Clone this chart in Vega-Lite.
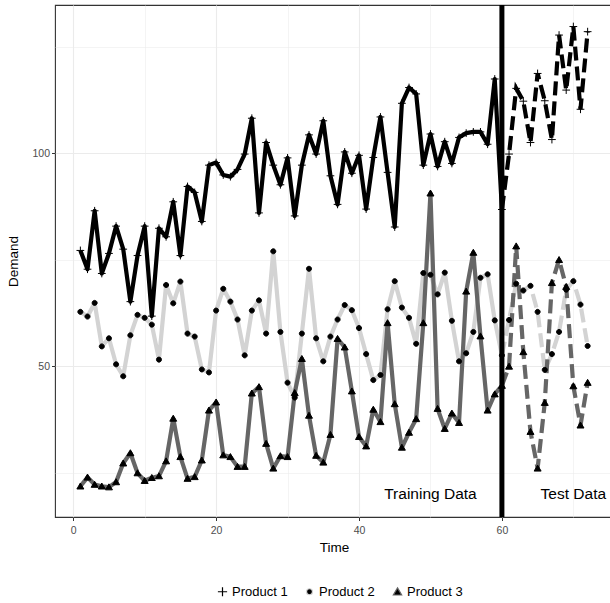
{
  "$schema": "https://vega.github.io/schema/vega-lite/v6.json",
  "autosize": "none",
  "width": 558,
  "height": 512,
  "padding": {"left": 55, "top": 5, "right": 0, "bottom": 86},
  "background": "white",
  "config": {
    "font": "Liberation Sans",
    "view": {"stroke": "#333333", "strokeWidth": 1.1},
    "legend": {"disable": false},
    "axis": {"domain": false, "tickColor": "#333333", "tickSize": 3.5, "labelColor": "#4d4d4d", "labelFontSize": 10.5, "titleFontSize": 13.5, "titleFontWeight": "normal", "titleColor": "black", "gridColor": "#ebebeb"}
  },
  "datasets": {
    "demand": [
      {"t":1,"Product 1":77.2,"Product 2":62.8,"Product 3":21.9},
      {"t":2,"Product 1":72.8,"Product 2":61.7,"Product 3":24.0},
      {"t":3,"Product 1":86.5,"Product 2":64.9,"Product 3":22.3},
      {"t":4,"Product 1":71.8,"Product 2":54.7,"Product 3":21.9},
      {"t":5,"Product 1":76.5,"Product 2":56.6,"Product 3":21.7},
      {"t":6,"Product 1":82.9,"Product 2":50.5,"Product 3":22.9},
      {"t":7,"Product 1":77.5,"Product 2":47.7,"Product 3":27.3},
      {"t":8,"Product 1":65.2,"Product 2":57.3,"Product 3":29.7},
      {"t":9,"Product 1":76.0,"Product 2":62.1,"Product 3":25.0},
      {"t":10,"Product 1":82.9,"Product 2":61.4,"Product 3":23.2},
      {"t":11,"Product 1":61.8,"Product 2":59.8,"Product 3":23.9},
      {"t":12,"Product 1":82.4,"Product 2":51.6,"Product 3":24.3},
      {"t":13,"Product 1":80.4,"Product 2":69.1,"Product 3":27.8},
      {"t":14,"Product 1":88.6,"Product 2":64.8,"Product 3":37.8},
      {"t":15,"Product 1":76.0,"Product 2":69.9,"Product 3":28.8},
      {"t":16,"Product 1":92.2,"Product 2":57.7,"Product 3":23.7},
      {"t":17,"Product 1":90.8,"Product 2":57.0,"Product 3":24.1},
      {"t":18,"Product 1":84.0,"Product 2":49.3,"Product 3":28.0},
      {"t":19,"Product 1":97.2,"Product 2":48.6,"Product 3":39.7},
      {"t":20,"Product 1":97.8,"Product 2":63.1,"Product 3":41.6},
      {"t":21,"Product 1":94.9,"Product 2":68.2,"Product 3":29.2},
      {"t":22,"Product 1":94.5,"Product 2":65.2,"Product 3":28.8},
      {"t":23,"Product 1":96.2,"Product 2":61.0,"Product 3":26.5},
      {"t":24,"Product 1":99.8,"Product 2":52.6,"Product 3":26.5},
      {"t":25,"Product 1":108.2,"Product 2":63.1,"Product 3":43.7},
      {"t":26,"Product 1":86.0,"Product 2":65.5,"Product 3":45.2},
      {"t":27,"Product 1":102.5,"Product 2":57.7,"Product 3":31.9},
      {"t":28,"Product 1":97.2,"Product 2":77.0,"Product 3":26.1},
      {"t":29,"Product 1":92.6,"Product 2":58.1,"Product 3":29.0},
      {"t":30,"Product 1":98.9,"Product 2":46.2,"Product 3":28.8},
      {"t":31,"Product 1":85.3,"Product 2":42.7,"Product 3":43.8},
      {"t":32,"Product 1":97.2,"Product 2":57.7,"Product 3":51.8},
      {"t":33,"Product 1":104.3,"Product 2":72.9,"Product 3":38.5},
      {"t":34,"Product 1":99.8,"Product 2":56.6,"Product 3":29.1},
      {"t":35,"Product 1":107.6,"Product 2":51.2,"Product 3":27.5},
      {"t":36,"Product 1":94.7,"Product 2":57.0,"Product 3":34.0},
      {"t":37,"Product 1":88.0,"Product 2":61.0,"Product 3":56.5},
      {"t":38,"Product 1":100.3,"Product 2":64.4,"Product 3":54.5},
      {"t":39,"Product 1":95.3,"Product 2":63.2,"Product 3":44.2},
      {"t":40,"Product 1":99.5,"Product 2":59.0,"Product 3":33.5},
      {"t":41,"Product 1":86.9,"Product 2":52.9,"Product 3":31.3},
      {"t":42,"Product 1":99.0,"Product 2":46.8,"Product 3":39.9},
      {"t":43,"Product 1":108.5,"Product 2":48.0,"Product 3":37.0},
      {"t":44,"Product 1":95.5,"Product 2":63.4,"Product 3":60.2},
      {"t":45,"Product 1":82.7,"Product 2":70.0,"Product 3":41.2},
      {"t":46,"Product 1":111.7,"Product 2":63.8,"Product 3":31.0},
      {"t":47,"Product 1":115.4,"Product 2":61.4,"Product 3":34.5},
      {"t":48,"Product 1":113.9,"Product 2":55.3,"Product 3":37.7},
      {"t":49,"Product 1":97.2,"Product 2":71.9,"Product 3":60.2},
      {"t":50,"Product 1":104.5,"Product 2":71.5,"Product 3":90.6},
      {"t":51,"Product 1":96.9,"Product 2":66.9,"Product 3":40.1},
      {"t":52,"Product 1":102.7,"Product 2":72.0,"Product 3":35.4},
      {"t":53,"Product 1":97.6,"Product 2":60.7,"Product 3":39.0},
      {"t":54,"Product 1":103.7,"Product 2":51.2,"Product 3":36.8},
      {"t":55,"Product 1":104.7,"Product 2":53.1,"Product 3":67.6},
      {"t":56,"Product 1":105.0,"Product 2":58.1,"Product 3":76.7},
      {"t":57,"Product 1":105.0,"Product 2":70.8,"Product 3":57.1},
      {"t":58,"Product 1":102.1,"Product 2":71.6,"Product 3":39.7},
      {"t":59,"Product 1":117.4,"Product 2":60.8,"Product 3":43.5},
      {"t":60,"Product 1":86.8,"Product 2":52.6,"Product 3":45.5},
      {"t":61,"Product 1":99.8,"Product 2":60.9,"Product 3":50.0},
      {"t":62,"Product 1":115.2,"Product 2":69.4,"Product 3":78.2},
      {"t":63,"Product 1":112.2,"Product 2":67.8,"Product 3":53.4},
      {"t":64,"Product 1":102.5,"Product 2":68.9,"Product 3":34.7},
      {"t":65,"Product 1":118.7,"Product 2":62.8,"Product 3":26.1},
      {"t":66,"Product 1":112.3,"Product 2":49.2,"Product 3":41.5},
      {"t":67,"Product 1":103.2,"Product 2":52.9,"Product 3":69.6},
      {"t":68,"Product 1":127.7,"Product 2":58.1,"Product 3":75.0},
      {"t":69,"Product 1":114.8,"Product 2":68.0,"Product 3":68.7},
      {"t":70,"Product 1":129.7,"Product 2":70.0,"Product 3":45.4},
      {"t":71,"Product 1":110.3,"Product 2":64.5,"Product 3":36.2},
      {"t":72,"Product 1":128.5,"Product 2":54.8,"Product 3":46.2}
    ],
    "notes": [
      {"t": 50, "demand": 20, "label": "Training Data"},
      {"t": 70, "demand": 20, "label": "Test Data"}
    ],
    "split": [{"t": 60}]
  },
  "layer": [
    {
      "data": {"name": "demand"},
      "transform": [{"fold": ["Product 1", "Product 2", "Product 3"], "as": ["product", "demand"]}],
      "encoding": {
        "x": {"field": "t", "type": "quantitative", "title": "Time",
          "scale": {"domain": [-2.55, 75.55], "nice": false, "zero": false},
          "axis": {"values": [0, 10, 20, 30, 40, 50, 60, 70], "labelExpr": "datum.value % 20 === 0 ? datum.label : ''",
            "tickOpacity": {"condition": {"test": "datum.value % 20 === 0", "value": 1}, "value": 0},
            "gridWidth": {"condition": {"test": "datum.value % 20 === 0", "value": 1.1}, "value": 0.55},
            "labelPadding": 5, "titlePadding": 4, "labelFlush": false}},
        "y": {"field": "demand", "type": "quantitative", "title": "Demand",
          "scale": {"domain": [14.7, 134.75], "nice": false, "zero": false},
          "axis": {"values": [25, 50, 75, 100, 125], "labelExpr": "datum.value % 50 === 0 ? datum.label : ''",
            "tickOpacity": {"condition": {"test": "datum.value % 50 === 0", "value": 1}, "value": 0},
            "gridWidth": {"condition": {"test": "datum.value % 50 === 0", "value": 1.1}, "value": 0.55},
            "labelPadding": 2, "titlePadding": 11, "labelFlush": false}}
      },
      "layer": [
        {
          "transform": [{"filter": "datum.t <= 60"}],
          "mark": {"type": "line", "strokeWidth": 4.2, "strokeJoin": "round"},
          "encoding": {
            "stroke": {"field": "product", "type": "nominal",
              "scale": {"domain": ["Product 1", "Product 2", "Product 3"], "range": ["#000000", "#d3d3d3", "#666666"]},
              "legend": {"disable": false, "orient": "none", "legendX": 161, "legendY": 580, "direction": "horizontal", "title": null,
                "labelFontSize": 13, "labelColor": "black", "symbolStrokeWidth": 1.2, "symbolSize": 85, "labelOffset": 3, "columnPadding": 15,
                "encode": {"symbols": {"update": {"fill": {"value": "black"}, "stroke": {"value": "black"}, "strokeWidth": {"value": 1.2}, "opacity": {"value": 1}, "size": {"value": 85}}}}}}
          }
        },
        {
          "transform": [{"filter": "datum.t >= 60"}],
          "mark": {"type": "line", "strokeWidth": 4.2, "strokeDash": [14, 6]},
          "encoding": {
            "stroke": {"field": "product", "type": "nominal",
              "scale": {"domain": ["Product 1", "Product 2", "Product 3"], "range": ["#000000", "#d3d3d3", "#666666"]}}
          }
        },
        {
          "mark": {"type": "point", "filled": true, "fill": "black", "stroke": "black", "strokeWidth": 1, "opacity": 1, "size": 60},
          "encoding": {
            "shape": {"field": "product", "type": "nominal",
              "scale": {"domain": ["Product 1", "Product 2", "Product 3"], "range": ["M-1,0H1M0,-1V1", "M-0.65,0A0.65,0.65 0 1,0 0.65,0A0.65,0.65 0 1,0 -0.65,0Z", "M0,-0.85L0.9,0.7L-0.9,0.7Z"]},
              "legend": {"disable": false, "orient": "none", "legendX": 161, "legendY": 580, "direction": "horizontal", "title": null,
                "labelFontSize": 13, "labelColor": "black", "symbolStrokeWidth": 1.2, "symbolSize": 85, "labelOffset": 3, "columnPadding": 15}}
          }
        }
      ]
    },
    {
      "data": {"name": "split"},
      "mark": {"type": "rule", "color": "black", "strokeWidth": 5},
      "encoding": {"x": {"field": "t", "type": "quantitative"}}
    },
    {
      "data": {"name": "notes"},
      "mark": {"type": "text", "fontSize": 15.5, "color": "black", "align": "center", "baseline": "middle"},
      "encoding": {
        "x": {"field": "t", "type": "quantitative"},
        "y": {"field": "demand", "type": "quantitative"},
        "text": {"field": "label"}
      }
    }
  ]
}
